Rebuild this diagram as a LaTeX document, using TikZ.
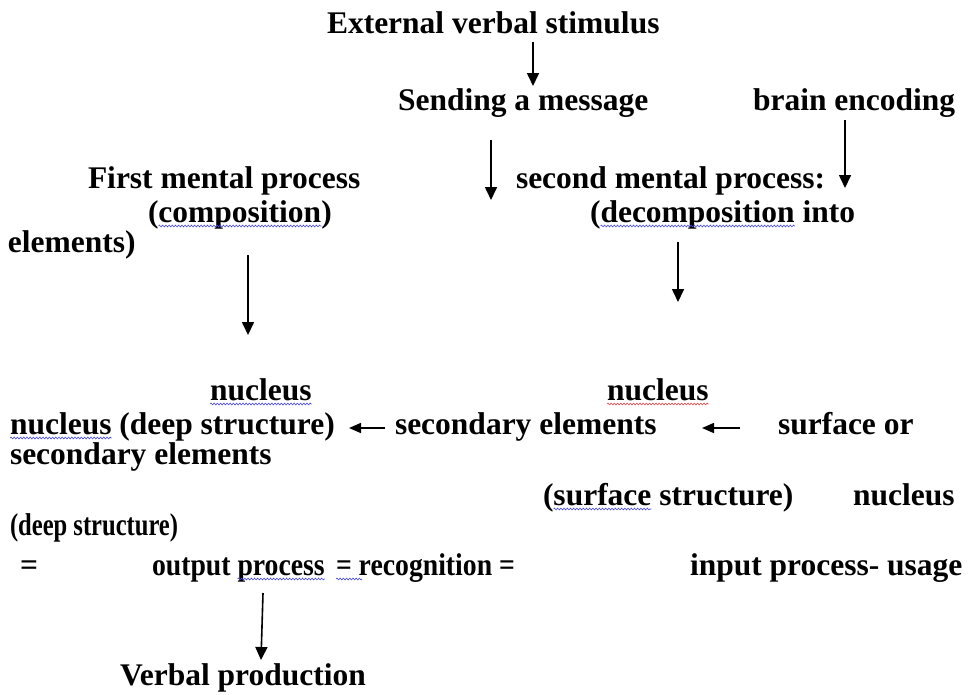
\documentclass[tikz,border=0pt]{standalone}
\usepackage{fontspec}
\usepackage{graphicx}
\setmainfont{Liberation Serif}
\usetikzlibrary{arrows.meta,decorations.pathmorphing}
\definecolor{spellblue}{RGB}{70,70,235}
\definecolor{spellred}{RGB}{235,70,70}
\begin{document}
\begin{tikzpicture}[x=1pt,y=-1pt,
  txt/.style={inner sep=0pt, outer sep=0pt, anchor=base west, font=\fontsize{31.5}{31.5}\selectfont\bfseries},
  arr/.style={line width=1.6pt, -{Triangle[width=12pt,length=13pt]}},
  harr/.style={line width=1.6pt, -{Triangle[width=10pt,length=12pt]}},
  wavy/.style={decorate, decoration={snake, segment length=3.2pt, amplitude=0.9pt}, line width=0.6pt, spellblue},
  wavyr/.style={wavy, spellred}]
\useasboundingbox (0,0) rectangle (973,694);
\fill[white] (0,0) rectangle (973,694);
% texts
\node[txt] (ext) at (327,33) {External verbal stimulus};
\node[txt] (send) at (398,110) {Sending a message};
\node[txt] (brain) at (753,110) {brain encoding};
\node[txt] (first) at (88,188) {First mental process};
\node[txt] (second) at (516,188) {second mental process:};
\node[txt] (compL) at (148,222) {(};
\node[txt] (compW) at (compL.base east) {composition};
\node[txt] (compR) at (compW.base east) {)};
\node[txt] (decL) at (590,222) {(};
\node[txt] (decW) at (decL.base east) {decomposition};
\node[txt] (decR) at (decW.base east) {\ into};
\node[txt] (elem) at (8,252) {elements)};
\node[txt] (nucA) at (210,400) {nucleus};
\node[txt] (nucB) at (10,434) {nucleus};
\node[txt] (deepA) at (nucB.base east) {\ (deep structure)};
\node[txt] (secA) at (395,434) {secondary elements};
\node[txt] (surfor) at (778,434) {surface or};
\node[txt] (nucC) at (607,400) {nucleus};
\node[txt] (secB) at (10,464) {secondary elements};
\node[txt] (surfL) at (543,505) {(};
\node[txt] (surfW) at (surfL.base east) {surface};
\node[txt] (surfR) at (surfW.base east) {\ structure)};
\node[txt] (nucD) at (853,505) {nucleus};
\node[txt] (deepB) at (10,535) {\scalebox{0.78}[1]{(deep structure)}};
\node[txt] (eq) at (20,575) {=};
\node[txt] (outW) at (152,575) {\scalebox{0.88}[1]{output\ }};
\node[txt] (procW) at (outW.base east) {\scalebox{0.88}[1]{process}};
\node[txt] (recog) at (336,575) {\scalebox{0.88}[1]{= recognition =}};
\node[txt] (input) at (690,575) {input process- usage};
\node[txt] (verbal) at (120,685) {Verbal production};
% spell-check underlines
\draw[wavy] ([yshift=-4pt]compW.base west) -- ([yshift=-4pt]compW.base east);
\draw[wavy] ([yshift=-4pt]decW.base west) -- ([yshift=-4pt]decW.base east);
\draw[wavy] ([yshift=-4pt]nucA.base west) -- ([yshift=-4pt]nucA.base east);
\draw[wavy] ([yshift=-4pt]nucB.base west) -- ([yshift=-4pt]nucB.base east);
\draw[wavyr] ([yshift=-4pt]nucC.base west) -- ([yshift=-4pt]nucC.base east);
\draw[wavy] ([yshift=-4pt]surfW.base west) -- ([yshift=-4pt]surfW.base east);
\draw[wavy] ([yshift=-4pt]procW.base west) -- ([yshift=-4pt]procW.base east);
\draw[wavy] ([yshift=-4pt]recog.base west) -- ([yshift=-4pt,xshift=26pt]recog.base west);
% arrow end points
\coordinate (a1s) at (533,42);  \coordinate (a1e) at (533,86);
\coordinate (a2s) at (491,140); \coordinate (a2e) at (491,200);
\coordinate (a3s) at (845,120); \coordinate (a3e) at (845,188);
\coordinate (a4s) at (248,255); \coordinate (a4e) at (248,335);
\coordinate (a5s) at (678,242); \coordinate (a5e) at (678,302);
\coordinate (a6s) at (385,428); \coordinate (a6e) at (349,428);
\coordinate (a7s) at (740,428); \coordinate (a7e) at (702,428);
\coordinate (a8s) at (263,593); \coordinate (a8e) at (261,660);
\draw[arr] (a1s) -- (a1e);
\draw[arr] (a2s) -- (a2e);
\draw[arr] (a3s) -- (a3e);
\draw[arr] (a4s) -- (a4e);
\draw[arr] (a5s) -- (a5e);
\draw[harr] (a6s) -- (a6e);
\draw[harr] (a7s) -- (a7e);
\draw[arr] (a8s) -- (a8e);
\end{tikzpicture}
\end{document}
